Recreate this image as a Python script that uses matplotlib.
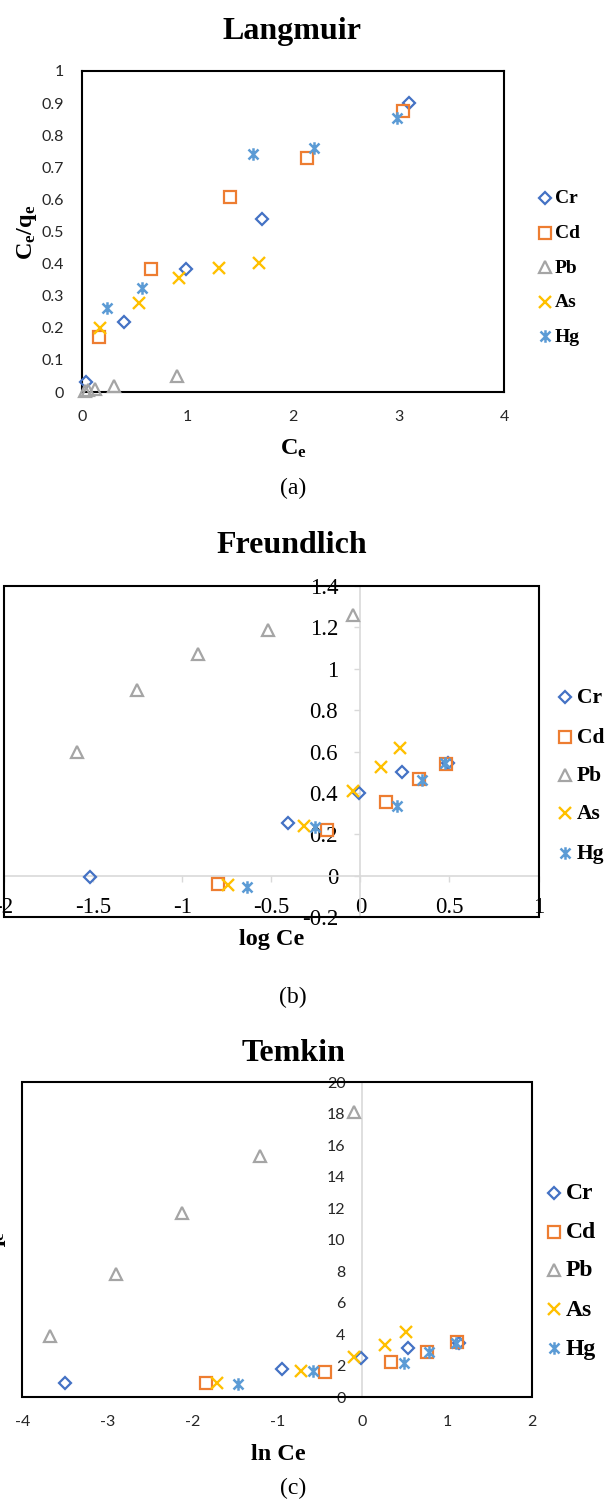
import matplotlib
matplotlib.use("Agg")
import matplotlib.pyplot as plt
from matplotlib.path import Path
from matplotlib.lines import Line2D
from matplotlib.patches import Rectangle

# ---------------------------------------------------------------- data
metals = ["Cr", "Cd", "Pb", "As", "Hg"]

# Langmuir: Ce vs Ce/qe
lang_x_cr = [0.035, 0.395, 0.986, 1.709, 3.10]
lang_y_cr = [0.030, 0.217, 0.384, 0.539, 0.899]
lang_x_cd = [0.161, 0.651, 1.403, 2.136, 3.046]
lang_y_cd = [0.170, 0.383, 0.608, 0.728, 0.876]
lang_x_pb = [0.025, 0.055, 0.12, 0.30, 0.905]
lang_y_pb = [0.002, 0.005, 0.010, 0.020, 0.050]
lang_x_as = [0.171, 0.543, 0.919, 1.30, 1.678]
lang_y_as = [0.198, 0.276, 0.354, 0.387, 0.403]
lang_x_hg = [0.234, 0.566, 1.624, 2.199, 2.989]
lang_y_hg = [0.261, 0.325, 0.740, 0.759, 0.853]

# Freundlich: log Ce vs log qe
freu_x_cr = [-1.516, -0.405, -0.007, 0.233, 0.49]
freu_y_cr = [-0.008, 0.254, 0.399, 0.499, 0.545]
freu_x_cd = [-0.797, -0.187, 0.146, 0.327, 0.482]
freu_y_cd = [-0.042, 0.221, 0.358, 0.467, 0.541]
freu_x_pb = [-1.592, -1.252, -0.913, -0.519, -0.039]
freu_y_pb = [0.596, 0.896, 1.069, 1.186, 1.258]
freu_x_as = [-0.741, -0.314, -0.041, 0.116, 0.224]
freu_y_as = [-0.045, 0.241, 0.407, 0.525, 0.617]
freu_x_hg = [-0.635, -0.252, 0.205, 0.345, 0.476]
freu_y_hg = [-0.053, 0.237, 0.338, 0.463, 0.544]

# Temkin: ln Ce vs qe
temk_x_cr = [-3.498, -0.941, -0.02, 0.533, 1.133]
temk_y_cr = [0.93, 1.78, 2.48, 3.15, 3.43]
temk_x_cd = [-1.839, -0.435, 0.341, 0.761, 1.114]
temk_y_cd = [0.89, 1.63, 2.26, 2.90, 3.49]
temk_x_pb = [-3.679, -2.894, -2.118, -1.20, -0.102]
temk_y_pb = [3.89, 7.83, 11.68, 15.32, 18.13]
temk_x_as = [-1.709, -0.722, -0.094, 0.263, 0.518]
temk_y_as = [0.89, 1.69, 2.54, 3.32, 4.17]
temk_x_hg = [-1.462, -0.584, 0.486, 0.78, 1.106]
temk_y_hg = [0.85, 1.69, 2.16, 2.90, 3.47]

lang_xticks = [0, 1, 2, 3, 4]
lang_yticks = [0, 0.1, 0.2, 0.3, 0.4, 0.5, 0.6, 0.7, 0.8, 0.9, 1]
lang_ylabels = ["0", "0.1", "0.2", "0.3", "0.4", "0.5", "0.6", "0.7", "0.8", "0.9", "1"]
freu_xticks = [-2, -1.5, -1, -0.5, 0, 0.5, 1]
freu_xlabels = ["-2", "-1.5", "-1", "-0.5", "0", "0.5", "1"]
freu_yticks = [-0.2, 0, 0.2, 0.4, 0.6, 0.8, 1.0, 1.2, 1.4]
freu_ylabels = ["-0.2", "0", "0.2", "0.4", "0.6", "0.8", "1", "1.2", "1.4"]
temk_xticks = [-4, -3, -2, -1, 0, 1, 2]
temk_yticks = [0, 2, 4, 6, 8, 10, 12, 14, 16, 18, 20]

# ---------------------------------------------------------------- style
W, H = 609, 1503
plt.rcParams["mathtext.fontset"] = "custom"
plt.rcParams["mathtext.rm"] = "Liberation Serif"
plt.rcParams["mathtext.it"] = "Liberation Serif:italic"
plt.rcParams["mathtext.bf"] = "Liberation Serif:bold"

SERIF = "Liberation Serif"
SANS = "Lato"
AXIS_GREY = "#D9D9D9"

star = Path([(-1, -1), (1, 1), (-1, 1), (1, -1), (0, -1.25), (0, 1.25)],
            [Path.MOVETO, Path.LINETO, Path.MOVETO, Path.LINETO,
             Path.MOVETO, Path.LINETO])

marker_style = {
    "Cr": dict(marker="D", ms=5.8, mfc="none", mec="#4472C4", mew=1.6),
    "Cd": dict(marker="s", ms=8, mfc="none", mec="#ED7D31", mew=1.6),
    "Pb": dict(marker="^", ms=8.3, mfc="none", mec="#A5A5A5", mew=1.6),
    "As": dict(marker="x", ms=8, mfc="none", mec="#FFC000", mew=1.7),
    "Hg": dict(marker=star, ms=9, mfc="none", mec="#5B9BD5", mew=1.8),
}


def fx(px):
    return px / W


def fy(py):
    return 1 - py / H


def add_axes(left, top, right, bottom):
    return fig.add_axes([fx(left), fy(bottom), (right - left) / W, (bottom - top) / H])


def scatter_all(ax, series):
    for metal, (xs, ys) in zip(metals, series):
        ax.plot(xs, ys, ls="none", clip_on=False, zorder=5, **marker_style[metal])


def legend_block(x_marker, x_text, ys, fs):
    for metal, y in zip(metals, ys):
        fig.add_artist(Line2D([fx(x_marker)], [fy(y)], transform=fig.transFigure,
                              ls="none", **marker_style[metal]))
        fig.text(fx(x_text), fy(y + 1), metal, fontsize=fs, fontweight="bold",
                 family=SERIF, ha="left", va="center")


def frame(ax, lw=1.5):
    ax.add_patch(Rectangle((0, 0), 1, 1, transform=ax.transAxes, fill=False,
                           ec="black", lw=lw, clip_on=False, zorder=4))


fig = plt.figure(figsize=(W / 100, H / 100), dpi=100, facecolor="white")

# ---------------------------------------------------------------- (a) Langmuir
ax1 = add_axes(82, 71, 504, 392)
scatter_all(ax1, [(lang_x_cr, lang_y_cr), (lang_x_cd, lang_y_cd), (lang_x_pb, lang_y_pb),
                  (lang_x_as, lang_y_as), (lang_x_hg, lang_y_hg)])
ax1.set_xlim(0, 4)
ax1.set_ylim(0, 1)
ax1.set_xticks(lang_xticks)
ax1.set_xticklabels([str(t) for t in lang_xticks])
ax1.set_yticks(lang_yticks)
ax1.set_yticklabels(lang_ylabels)
for s in ax1.spines.values():
    s.set_color("black")
    s.set_linewidth(1.5)
ax1.tick_params(axis="both", length=0, labelsize=11.5, labelcolor="#262626")
ax1.tick_params(axis="x", pad=13)
ax1.tick_params(axis="y", pad=13)
for lab in ax1.get_xticklabels() + ax1.get_yticklabels():
    lab.set_family(SANS)

fig.text(fx(292), fy(39), "Langmuir", ha="center", va="baseline",
         fontsize=23, fontweight="bold", family=SERIF)
fig.text(fx(27), fy(232), r"$\mathbf{C_e/q_e}$", rotation=90, ha="center", va="center",
         fontsize=17.5)
fig.text(fx(293), fy(448), r"$\mathbf{C_e}$", ha="center", va="center", fontsize=17.5)
fig.text(fx(293), fy(488), "(a)", ha="center", va="center", fontsize=17, family=SERIF)
legend_block(545, 555, [197.7, 232.7, 267.3, 301.7, 336], 14)

# ---------------------------------------------------------------- (b) Freundlich
ax2 = add_axes(4, 586, 538.5, 917)
scatter_all(ax2, [(freu_x_cr, freu_y_cr), (freu_x_cd, freu_y_cd), (freu_x_pb, freu_y_pb),
                  (freu_x_as, freu_y_as), (freu_x_hg, freu_y_hg)])
ax2.set_xlim(-2, 1)
ax2.set_ylim(-0.2, 1.4)
ax2.set_xticks(freu_xticks)
ax2.set_xticklabels(freu_xlabels)
ax2.set_yticks(freu_yticks)
ax2.set_yticklabels(freu_ylabels)
ax2.spines["left"].set_position(("data", 0))
ax2.spines["bottom"].set_position(("data", 0))
for side in ("left", "bottom"):
    ax2.spines[side].set_color(AXIS_GREY)
    ax2.spines[side].set_linewidth(1.2)
ax2.spines["top"].set_visible(False)
ax2.spines["right"].set_visible(False)
frame(ax2)
ax2.tick_params(axis="both", direction="out", length=4.5, width=1, color=AXIS_GREY,
                labelsize=16.5)
ax2.tick_params(axis="x", pad=11)
ax2.tick_params(axis="y", pad=11.5)
for lab in ax2.get_xticklabels() + ax2.get_yticklabels():
    lab.set_family(SERIF)

fig.text(fx(292), fy(553), "Freundlich", ha="center", va="baseline",
         fontsize=23, fontweight="bold", family=SERIF)
fig.text(fx(272), fy(940), "log Ce", ha="center", va="center",
         fontsize=17.5, fontweight="bold", family=SERIF)
fig.text(fx(293), fy(997), "(b)", ha="center", va="center", fontsize=17, family=SERIF)
legend_block(565, 577, [696.7, 736.7, 775, 813.3, 852.7], 15.5)

# ---------------------------------------------------------------- (c) Temkin
ax3 = add_axes(22.3, 1082.3, 532.3, 1397.3)
scatter_all(ax3, [(temk_x_cr, temk_y_cr), (temk_x_cd, temk_y_cd), (temk_x_pb, temk_y_pb),
                  (temk_x_as, temk_y_as), (temk_x_hg, temk_y_hg)])
ax3.set_xlim(-4, 2)
ax3.set_ylim(0, 20)
ax3.set_xticks(temk_xticks)
ax3.set_xticklabels([str(t) for t in temk_xticks])
ax3.set_yticks(temk_yticks)
ax3.set_yticklabels([str(t) for t in temk_yticks])
ax3.spines["left"].set_position(("data", 0))
ax3.spines["left"].set_color(AXIS_GREY)
ax3.spines["left"].set_linewidth(1.2)
for side in ("top", "right", "bottom"):
    ax3.spines[side].set_visible(False)
frame(ax3)
ax3.tick_params(axis="both", length=0, labelsize=11.5, labelcolor="#262626")
ax3.tick_params(axis="x", pad=13)
ax3.tick_params(axis="y", pad=12)
for lab in ax3.get_xticklabels() + ax3.get_yticklabels():
    lab.set_family(SANS)

fig.text(fx(293), fy(1061), "Temkin", ha="center", va="baseline",
         fontsize=23, fontweight="bold", family=SERIF)
fig.text(fx(-4), fy(1243), r"$\mathbf{q_e}$", rotation=90, ha="center", va="center",
         fontsize=17.5)
fig.text(fx(278), fy(1455), "ln Ce", ha="center", va="center",
         fontsize=17.5, fontweight="bold", family=SERIF)
fig.text(fx(293), fy(1488), "(c)", ha="center", va="center", fontsize=17, family=SERIF)
legend_block(554, 566, [1192.7, 1231.7, 1270, 1309.3, 1348.3], 17)

fig.savefig("out.png", dpi=100, facecolor="white")
